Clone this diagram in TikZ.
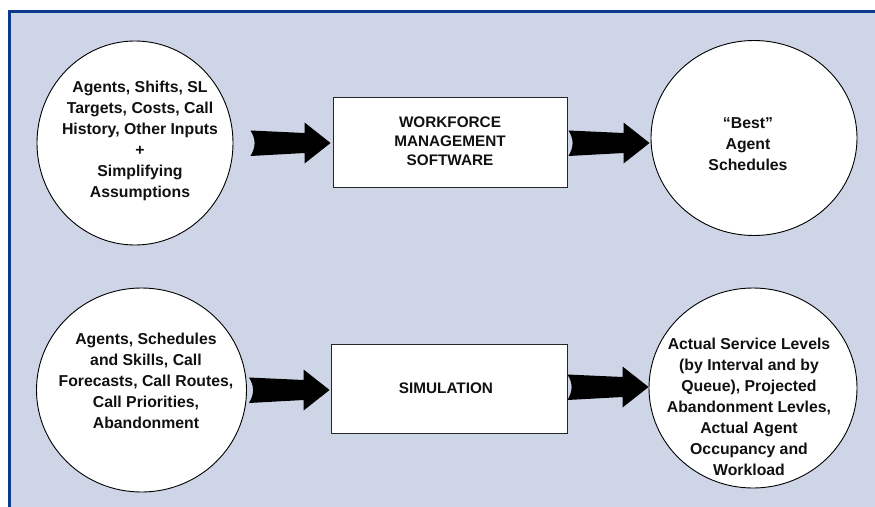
\documentclass[tikz,border=0pt]{standalone}
\usepackage{fontspec}
\setmainfont{Liberation Sans}
\usetikzlibrary{calc}

\definecolor{panelbg}{HTML}{CDD5E6}
\definecolor{framecol}{HTML}{0E3A8E}
\definecolor{inktext}{HTML}{111111}

\tikzset{
  x=1pt, y=-1pt,
  bubble/.style={ellipse, draw=black, line width=0.9pt, fill=white, inner sep=0pt},
  procbox/.style={rectangle, draw=black!85, line width=0.9pt, fill=white, inner sep=0pt},
  bubbletext/.style={align=center, text=inktext, font=\bfseries\fontsize{15.8}{21}\selectfont, inner sep=0pt},
  boxtext/.style={align=center, text=inktext, font=\bfseries\fontsize{15.3}{19}\selectfont, inner sep=0pt},
  fatfill/.style={fill=black},
}
\usetikzlibrary{shapes.geometric}

% Block arrow with a notched tail, from tail coordinate #1 to tip coordinate #2
\newcommand\fatarrow[2]{%
  \fill[fatfill] ($(#1|-#2)+(0,-12.5)$)
    -- ($(#2)+(-26,-10)$) -- ($(#2)+(-26,-20.5)$) -- (#2)
    -- ($(#2)+(-26,20.5)$) -- ($(#2)+(-26,10)$)
    -- ($(#1|-#2)+(0,13)$)
    .. controls ($(#1|-#2)+(5.5,4)$) and ($(#1|-#2)+(5.5,-4)$) .. cycle;
}

\begin{document}
\begin{tikzpicture}
\useasboundingbox (0,0) rectangle (875,506);
\clip (0,0) rectangle (875,506);
\fill[white] (0,0) rectangle (875,506);

% panel with blue frame (open to the right and bottom)
\fill[panelbg] (9.5,11.3) rectangle (880,512);
\draw[framecol, line width=3pt] (9.5,520) -- (9.5,11.3) -- (880,11.3);

% top row
\node[bubble, minimum width=196pt, minimum height=204pt] (inA) at (135,143) {};
\node[procbox, minimum width=234pt, minimum height=90pt] (wfm) at (450,142) {};
\node[bubble, minimum width=206pt, minimum height=195pt] (outA) at (754,138) {};

% bottom row
\node[bubble, minimum width=210pt, minimum height=204pt] (inB) at (141.5,390) {};
\node[procbox, minimum width=236pt, minimum height=89pt] (sim) at (449,388.5) {};
\node[bubble, minimum width=208pt, minimum height=200pt] (outB) at (753,388) {};

% labels
\node[bubbletext] (tA) at (140,141) {Agents, Shifts, SL\\Targets, Costs, Call\\History, Other Inputs\\+\\Simplifying\\Assumptions};
\node[boxtext] (tW) at (450,141) {WORKFORCE\\MANAGEMENT\\SOFTWARE};
\node[bubbletext] (tO) at (748,144) {“Best”\\Agent\\Schedules};
\node[bubbletext] (tB) at (146,381) {Agents, Schedules\\and Skills, Call\\Forecasts, Call Routes,\\Call Priorities,\\Abandonment};
\node[boxtext] (tS) at (446,388) {SIMULATION};
\node[bubbletext] (tP) at (749,407) {Actual Service Levels\\(by Interval and by\\Queue), Projected\\Abandonment Levles,\\Actual Agent\\Occupancy and\\Workload};

% arrow anchors
\coordinate (a1s) at ($(inA.east)+(17,0)$);
\coordinate (a1t) at ($(wfm.west)+(-2,1)$);
\coordinate (a2s) at ($(wfm.east)+(1,0)$);
\coordinate (a2t) at ($(outA.west)+(-1,5)$);
\coordinate (a3s) at ($(inB.east)+(2,0)$);
\coordinate (a3t) at ($(sim.west)+(-1,1.5)$);
\coordinate (a4s) at ($(sim.east)+(0,0)$);
\coordinate (a4t) at ($(outB.west)+(0,-1)$);

\fatarrow{a1s}{a1t}
\fatarrow{a2s}{a2t}
\fatarrow{a3s}{a3t}
\fatarrow{a4s}{a4t}
\end{tikzpicture}
\end{document}
